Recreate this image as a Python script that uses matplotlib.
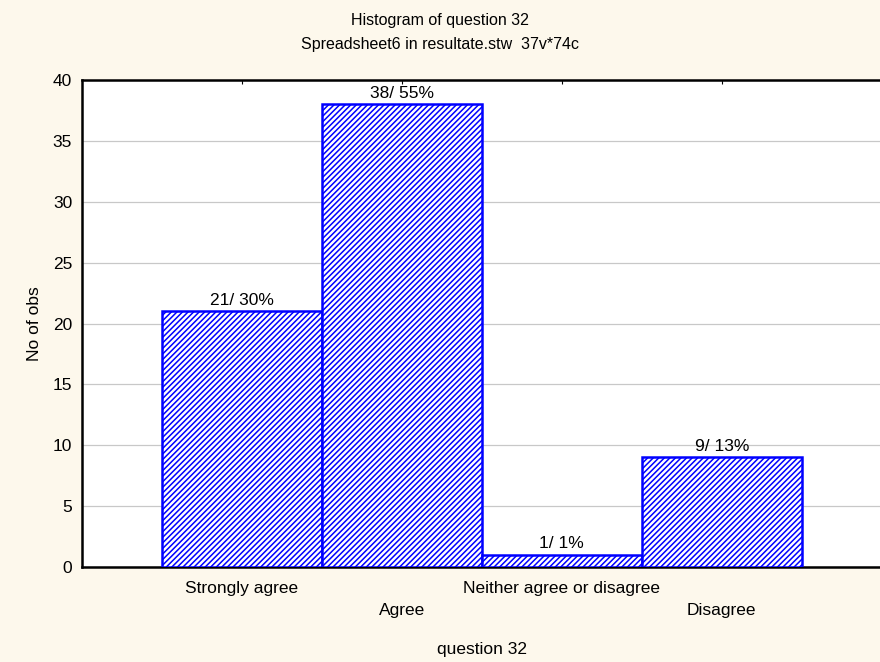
import matplotlib.pyplot as plt

# dane
kategorie = ["Strongly agree", "Agree", "Neither agree or disagree", "Disagree"]
liczby = [21, 38, 1, 9]
tytul = "Histogram of question 32"
podtytul = "Spreadsheet6 in resultate.stw  37v*74c"

plt.rcParams['font.family'] = ['Liberation Sans', 'DejaVu Sans']
plt.rcParams['hatch.color'] = '#0000FF'
plt.rcParams['hatch.linewidth'] = 1.1

tlo = '#FDF8EC'
fs = 12.5
fig = plt.figure(figsize=(8.8, 6.62), dpi=100, facecolor=tlo)
ax = fig.add_axes([0.093, 0.1435, 0.909, 0.7355])
ax.set_facecolor('white')

x = list(range(len(kategorie)))
suma = sum(liczby)
ax.bar(x, liczby, width=1.0, color='white', edgecolor='#0000FF',
       linewidth=1.8, hatch='//////', zorder=3)

for xi, n in zip(x, liczby):
    ax.text(xi, n + 0.3, f"{n}/ {round(100 * n / suma)}%", ha='center',
            va='bottom', fontsize=fs, zorder=4)

ax.set_xlim(-1, 4)
ax.set_ylim(0, 40)
ax.set_yticks(range(0, 41, 5))
ax.yaxis.grid(True, color='#C8C8C8', linewidth=0.9, zorder=0)
ax.tick_params(axis='y', length=0, labelsize=fs, pad=7)

ax.set_xticks(x)
ax.set_xticklabels(kategorie, fontsize=fs)
ax.tick_params(axis='x', direction='in', length=3, top=True)
# etykiety na dwoch poziomach
for i, t in enumerate(ax.xaxis.get_major_ticks()):
    t.set_pad(10 if i % 2 == 0 else 26)

for s in ['left', 'bottom', 'top']:
    ax.spines[s].set_linewidth(1.8)
ax.spines['right'].set_visible(False)

ax.set_ylabel("No of obs", fontsize=fs, labelpad=8)
ax.set_xlabel("question 32", fontsize=fs, labelpad=17)

fig.text(0.5, 1 - 20 / 662, tytul, ha='center', va='center', fontsize=11.5)
fig.text(0.5, 1 - 45 / 662, podtytul, ha='center', va='center', fontsize=11.5)

plt.savefig('out.png', dpi=100, facecolor=tlo)
